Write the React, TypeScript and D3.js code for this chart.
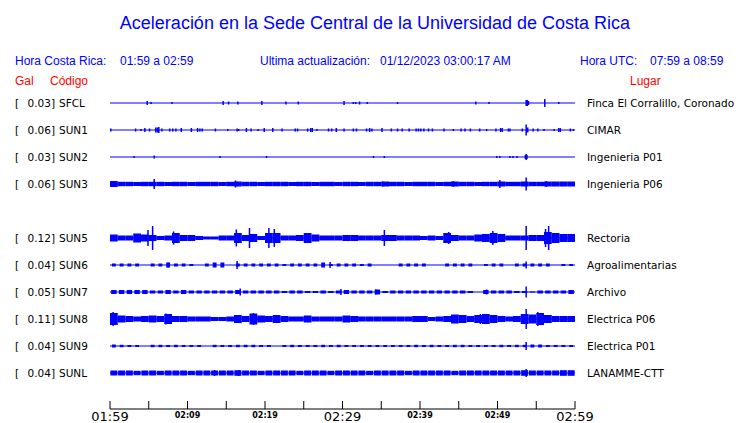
import React from "react";
import * as d3 from "d3";

const stationCodes = ["SFCL", "SUN1", "SUN2", "SUN3", "SUN4", "SUN5", "SUN6", "SUN7", "SUN8", "SUN9", "SUNL"];
const shownStations = ["SFCL", "SUN1", "SUN2", "SUN3", "SUN5", "SUN6", "SUN7", "SUN8", "SUN9", "SUNL"];
const peakGal = [0.03, 0.06, 0.03, 0.06, 0.12, 0.04, 0.05, 0.11, 0.04, 0.04];
const places = [
  "Finca El Corralillo, Coronado",
  "CIMAR",
  "Ingenieria P01",
  "Ingenieria P06",
  "Rectoria",
  "Agroalimentarias",
  "Archivo",
  "Electrica P06",
  "Electrica P01",
  "LANAMME-CTT",
];
const tickMinutes = [0, 5, 10, 15, 20, 25, 30, 35, 40, 45, 50, 55, 60];
const tickLabels = ["01:59", "", "02:09", "", "02:19", "", "02:29", "", "02:39", "", "02:49", "", "02:59"];
const majorLabels = ["01:59", "02:29", "02:59"];

// envelope amplitude per minute (0 = quiet trace)
const envSUN3 = [3,2.2,2.2,2,2.2,2.2,2.2,2,2.2,2.2, 2,2.2,2.2,2.2,2,2.2,2.5,2.2,2.2,2, 2.2,2.2,2.2,2,2.2,2.2,2,2.2,2.2,2, 2.2,2.2,2,2.2,2.2,2.5,2.2,2.2,2,2.2, 2.2,2.2,2,2.2,2.5,2.2,2.2,2,2.2,2.2, 2.5,2.2,2.2,2.5,2.2,2.2,2.5,2.5,2.5,2.5];
const envSUN5 = [3.5,2.5,2.5,4.5,3.5,3,2,2.5,5,3, 3,2,1.5,1.5,2.5,2.5,5,3,4,2, 5,5,2.5,2.5,3,5,3.5,2.5,2.5,2.5, 3,3,2.5,2.5,2.5,3,3,2.5,2.5,2.5, 2,2.5,2,5,3,2.5,2.5,3.5,4,5, 4,2.5,2.5,2.5,3,3,6,5,4,4];
const envSUN6 = [1.5,1.5,1.5,1.5,0,1.5,1.5,2.5,1.5,1.5, 1,0,1.5,2.5,2.5,0,1.5,1.5,1.5,1.5, 1.5,1.5,1,1.5,1.5,1.5,1.5,2.5,1,1.5, 1.5,1.5,1,1.5,0,0,0,1.5,1.5,1.5, 1.5,0,0,1.5,1.5,1.5,1.5,0,1,1.5, 1.5,0,1.5,1.5,1.5,1.5,1.5,0,1,1];
const envSUN7 = [2,2,2,2,2,1.5,1.5,2,1.5,2, 1.5,1.5,1.5,1.5,1.5,1.5,2,1.5,1.5,1.5, 1.5,1.5,1,1.5,1.5,1,1,1.5,1,1.5, 2,1.5,1.5,1.5,2.5,1,1.5,1.5,1.5,1.5, 1.5,1.5,1.5,1.5,1.5,1.5,1,0,2,1.5, 1.5,1.5,1,1,0.5,1.5,1.5,1.5,1.5,2];
const envSUN8 = [6,3.5,3,2.5,3,3.5,3,5,3,3, 2.5,2.5,2.5,2,2,2.5,4,3,5.5,3.5, 3,4,3,2.5,2.5,3.5,2.5,2.5,2.5,2.5, 3.5,3,2.5,2.5,2.5,2.5,2.5,2.5,2.5,3, 3,2,2.5,3,4.5,4,3,4,5,4, 3,2.5,3,5,4.5,6,4,3,3,3];
const envSUN9 = [1.5,1.2,1,1,0,1.2,1.2,1,1.2,1, 1,1,0,1.2,1,1,1.2,1.2,1.2,1, 1,0,1,1.2,1,1,1,1.2,1,1.2, 1,1,1,1,1,1,1,1,1,1.2, 1,1.2,1,1,1.2,1.2,1,1,1,1, 1.2,1,1.2,1.2,1.5,1.5,1,1,1,1];
const envSUNL = [2.5,2.5,2.5,2.2,2.5,2.5,2.2,2.5,2.5,2.5, 2.2,2.5,2.5,2.5,2.5,2.5,2.8,2.5,2.5,2.2, 2.5,2.5,2.5,2.5,2.2,2.5,2.5,2.5,2.2,2.5, 2.5,2.5,2.5,2.2,2.5,2.5,2.5,2.5,2.2,2.5, 2.5,2.5,2.5,2.5,2.2,2.5,2.5,2.5,2.5,2.5, 2.5,2.5,2.5,2.8,2.5,2.5,2.5,2.5,2.8,2.8];

// isolated peaks: [minute, amplitude]
const spikesSFCL = [[4.8,2],[5.3,1],[8.0,1],[14.6,2],[15.3,1.5],[16.5,1.5],[19.6,2],[22.7,1.5],[24.3,1.5],[30.2,2],[31.4,1],[31.7,1],[32.2,1.5],[33.2,1],[37.1,1],[47.2,1.5],[48.9,1],[53.7,3],[53.85,3],[54.0,2],[56.1,4],[57.9,1]];
const spikesSUN1 = [[0.1,1.5],[3.3,1.5],[4.0,1],[4.5,2],[5.1,1.5],[5.9,2.5],[6.1,2.5],[6.3,3],[6.7,1.5],[7.7,1.5],[8.1,1.5],[8.5,1.5],[9.2,2],[10.5,2],[11.3,2],[11.6,1.5],[11.9,1.5],[13.6,1.5],[15.2,1],[16.4,1.5],[16.6,1],[17.6,2],[18.2,1.5],[19.1,1],[19.9,2],[21.0,2],[22.2,1.5],[23.9,1.5],[24.2,1.5],[25.5,1.5],[25.9,2],[26.1,2],[26.7,1],[28.2,1.5],[28.6,1.5],[29.2,2],[30.2,1.5],[31.4,1.5],[31.8,1.5],[33.1,1.5],[33.5,2],[33.8,1.5],[35.1,2],[36.3,1.5],[37.1,1.5],[37.7,1.5],[38.6,1.5],[39.5,1.5],[39.8,1.5],[40.1,1.5],[40.5,1.5],[41.1,1.5],[41.6,1.5],[43.1,1.5],[44.3,1],[45.3,1.5],[45.8,1.5],[46.5,1.5],[47.7,1.5],[48.6,1],[49.8,1.5],[50.4,2],[50.6,2],[51.4,1.5],[51.6,1.5],[53.2,1.5],[53.7,5.5],[53.9,2.5],[54.6,1.5],[55.2,1.5],[56.0,1],[57.3,1],[57.9,2],[58.1,2],[59.4,1.5],[59.8,1]];
const spikesSUN2 = [[3.1,1],[5.7,1.5],[14.2,1],[20.2,1],[34.0,1],[35.4,1],[49.9,1],[50.3,1],[51.6,1],[52.0,1],[52.5,1],[53.6,2],[53.7,3],[53.8,2]];
const spikesSUN3 = [[0.1,3],[5.7,5],[16.2,3.5],[35.2,2.5],[44.3,3],[50.3,4],[53.7,6.5],[56.3,3]];
const spikesSUN5 = [[4.9,8],[5.5,12],[8.2,6.5],[16.3,8.5],[18.0,10],[20.5,10],[21.2,9],[35.4,8],[43.7,6],[49.4,7],[53.7,12],[56.2,9],[56.6,12]];
const spikesSUN6 = [[7.5,2.5],[16.4,4],[28.4,3],[53.7,3.5]];
const spikesSUN7 = [[16.8,3.5],[29.8,3],[34.3,2.5],[48.6,2.5],[53.7,5.5]];
const spikesSUN8 = [[0.4,7],[7.2,5.5],[18.5,6],[47.8,5],[53.7,10],[55.2,7]];
const spikesSUN9 = [[53.7,4]];
const spikesSUNL = [[13.5,3],[16.6,3],[53.7,4]];

const traces = {
  SFCL: { env: null, spikes: spikesSFCL, fill: 1 },
  SUN1: { env: null, spikes: spikesSUN1, fill: 1 },
  SUN2: { env: null, spikes: spikesSUN2, fill: 1 },
  SUN3: { env: envSUN3, spikes: spikesSUN3, fill: 1 },
  SUN5: { env: envSUN5, spikes: spikesSUN5, fill: 1 },
  SUN6: { env: envSUN6, spikes: spikesSUN6, fill: 0.5 },
  SUN7: { env: envSUN7, spikes: spikesSUN7, fill: 0.7 },
  SUN8: { env: envSUN8, spikes: spikesSUN8, fill: 1 },
  SUN9: { env: envSUN9, spikes: spikesSUN9, fill: 0.5 },
  SUNL: { env: envSUNL, spikes: spikesSUNL, fill: 0.9 },
};

const BLUE = "#0000ff";
const RED = "#ff0000";
const SANS = "'Liberation Sans', Arial, sans-serif";
const DEJA = "'DejaVu Sans', sans-serif";

export default function App() {
  const x = d3.scaleLinear().domain([0, 60]).range([110, 575]);
  const y = d3.scalePoint().domain(stationCodes).range([103, 373]);
  const amp = d3.scaleLinear().domain([0, 12]).range([0, 12]);

  return (
    <svg width={740} height={423} style={{ position: "fixed", left: 0, top: 0, background: "#fff" }}>
      <rect width={740} height={423} fill="#fff" />
      <text x={375} y={29} textAnchor="middle" fontFamily={SANS} fontSize={18} fill={BLUE}>
        Aceleración en la Sede Central de la Universidad de Costa Rica
      </text>
      <g fontFamily={SANS} fontSize={12} fill={BLUE}>
        <text x={15} y={65}>Hora Costa Rica:</text>
        <text x={120} y={65}>01:59 a 02:59</text>
        <text x={260} y={65}>Ultima actualización:</text>
        <text x={380} y={65}>01/12/2023 03:00:17 AM</text>
        <text x={580} y={65}>Hora UTC:</text>
        <text x={650} y={65}>07:59 a 08:59</text>
      </g>
      <g fontFamily={SANS} fontSize={12} fill={RED}>
        <text x={15} y={85}>Gal</text>
        <text x={50} y={85}>Código</text>
        <text x={630} y={85}>Lugar</text>
      </g>

      {shownStations.map((code, i) => {
        const cy = y(code)!;
        const tr = (traces as any)[code];
        const step = x(1) - x(0);
        return (
          <g key={code}>
            <g fontFamily={DEJA} fontSize={10.5} fill="#000">
              <text x={15} y={cy + 4}>[</text>
              <text x={55} y={cy + 4} textAnchor="end">{peakGal[i].toFixed(2)}]</text>
              <text x={59} y={cy + 4}>{code}</text>
              <text x={587} y={cy + 4}>{places[i]}</text>
            </g>
            <line x1={x(0)} x2={x(60)} y1={cy} y2={cy} stroke={BLUE} strokeWidth={1.2} />
            {tr.env &&
              tr.env.map((a: number, m: number) =>
                a > 0 ? (
                  <rect
                    key={"e" + m}
                    x={x(m) + (step * (1 - tr.fill)) / 2}
                    width={step * tr.fill}
                    y={cy - amp(a)}
                    height={2 * amp(a)}
                    fill={BLUE}
                  />
                ) : null
              )}
            {tr.spikes.map((s: number[], k: number) => (
              <rect key={"s" + k} x={x(s[0]) - 0.75} width={1.5} y={cy - amp(s[1])} height={2 * amp(s[1])} fill={BLUE} />
            ))}
          </g>
        );
      })}

      <g>
        <line x1={x(0)} x2={x(60)} y1={409} y2={409} stroke="#000" strokeWidth={1} />
        {tickMinutes.map((m, i) => (
          <g key={m}>
            <line x1={x(m)} x2={x(m)} y1={401} y2={409} stroke="#000" strokeWidth={1} />
            {tickLabels[i] &&
              (majorLabels.includes(tickLabels[i]) ? (
                <text x={x(m)} y={421} textAnchor="middle" fontFamily={DEJA} fontSize={13} fill="#000">
                  {tickLabels[i]}
                </text>
              ) : (
                <text x={x(m)} y={418} textAnchor="middle" fontFamily={DEJA} fontSize={8} fontWeight="bold" fill="#000">
                  {tickLabels[i]}
                </text>
              ))}
          </g>
        ))}
      </g>
    </svg>
  );
}
